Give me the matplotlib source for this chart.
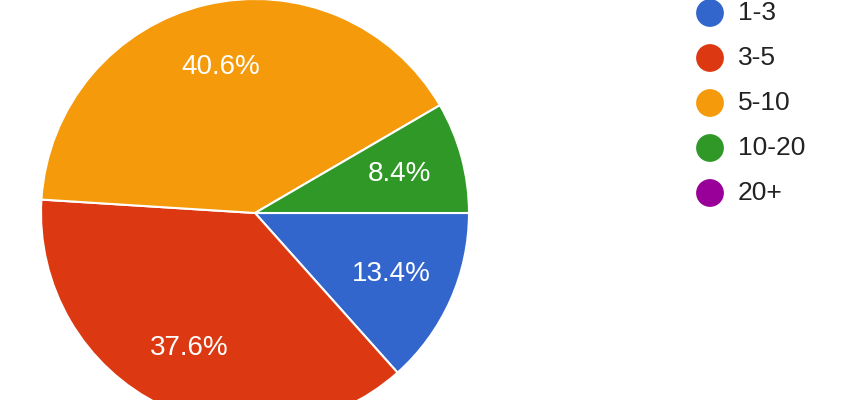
import matplotlib.pyplot as plt

labels = ['1-3', '3-5', '5-10', '10-20', '20+']
shares = [13.4, 37.6, 40.6, 8.4, 0.0]
colors = ['#3366cc', '#dc3912', '#f59a0a', '#2f9827', '#990099']

plt.rcParams['font.family'] = ['Liberation Sans', 'DejaVu Sans']

fig = plt.figure(figsize=(8.68, 4.0), dpi=100)
ax = fig.add_axes([0, 0, 1, 1])

# only non-zero slices go in the pie
vals = [v for v in shares if v > 0]
cols = [c for v, c in zip(shares, colors) if v > 0]

wedges, texts, autotexts = ax.pie(
    vals, colors=cols, startangle=0, counterclock=False,
    center=(255, 187), radius=214, frame=True,
    autopct='%1.1f%%', pctdistance=0.70,
    wedgeprops=dict(edgecolor='white', linewidth=1.5),
    textprops=dict(color='white', fontsize=20))
ax.set_xlim(0, 868)
ax.set_ylim(0, 400)
ax.set_aspect('equal')
ax.axis('off')

# legend drawn by hand
for i, (lab, col) in enumerate(zip(labels, colors)):
    y = 400 - (13 + 45 * i)
    ax.scatter([710], [y], s=400, color=col, edgecolors='none', zorder=5)
    ax.text(738, y, lab, fontsize=19, color='#222222', va='center', ha='left')

fig.savefig('out.png', dpi=100)
